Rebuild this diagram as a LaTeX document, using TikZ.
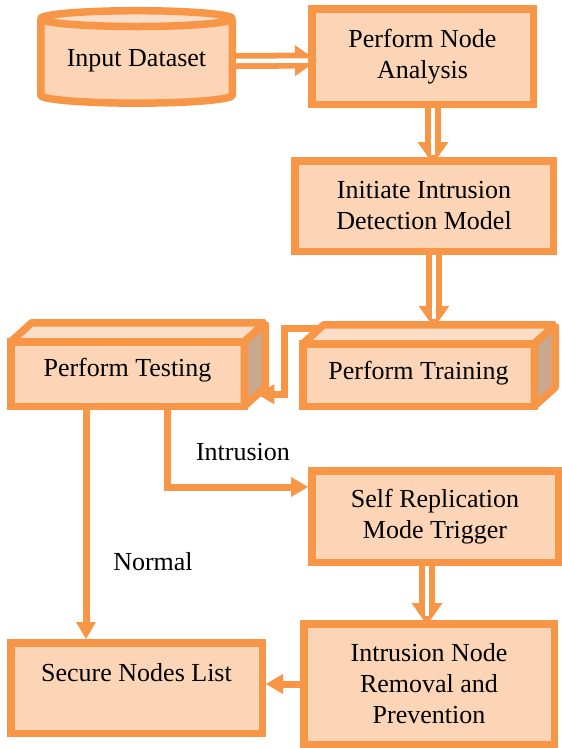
\documentclass[tikz,border=0pt]{standalone}
\usepackage{fontspec}
\setmainfont{Liberation Serif}
\newfontfamily\tnrfont{Liberation Serif}
\usetikzlibrary{arrows.meta,calc}
\definecolor{orng}{HTML}{F79646}
\definecolor{boxfill}{HTML}{FBD5B5}
\definecolor{topfill}{HTML}{FCDEC8}
\definecolor{sidefill}{HTML}{C9A88E}
\begin{document}
\begin{tikzpicture}[x=1pt,y=-1pt,
  box/.style={draw=orng, fill=boxfill, line width=7.5pt, inner sep=0pt, align=center,
    font=\tnrfont\fontsize{26}{31}\selectfont},
  cubefront/.style={box, outer sep=0pt},
  face/.style={draw=orng, line width=7.5pt, line join=bevel},
  conn/.style={draw=orng, line width=7pt, -{Triangle[width=20pt,length=17pt,line width=0pt]}},
  dbl/.style={draw=orng, line width=16pt, -{Triangle[width=31pt,length=22pt,line width=0pt]},
    postaction={draw=white, line width=4.5pt, arrows=-, shorten >=9pt}},
  lbl/.style={inner sep=0pt, font=\tnrfont\fontsize{26}{31}\selectfont}]
\useasboundingbox (0,0) rectangle (562,748);

% cylinder: Input Dataset
\fill[boxfill] (40.75,18.6) -- (40.75,95.25) arc[start angle=180, end angle=0, x radius=95.75, y radius=7.9] -- (232.25,18.6) -- cycle;
\draw[face] (40.75,18.6) -- (40.75,95.25) arc[start angle=180, end angle=0, x radius=95.75, y radius=7.9] -- (232.25,18.6);
\filldraw[face, fill=topfill] (136.5,18.6) ellipse [x radius=95.75, y radius=7.9];
\node[lbl, minimum width=199, minimum height=100, text height=18pt, text depth=0pt] (cyl) at (136.5,57) {Input Dataset};

% boxes
\node[box, minimum width=221.5, minimum height=95.5] (pna) at (422.5,56.5) {Perform Node\\Analysis};
\node[box, minimum width=258.5, minimum height=90.5] (iidm) at (424,206) {Initiate Intrusion\\Detection Model};
\node[box, minimum width=246.5, minimum height=91.5] (srmt) at (435,516.5) {Self Replication\\Mode Trigger};
\node[box, minimum width=250.5, minimum height=120.5] (inrp) at (429,684) {Intrusion Node\\Removal and\\Prevention};
\node[box, minimum width=251.5, minimum height=90.5, text height=18pt, text depth=32pt] (snl) at (136.5,688) {Secure Nodes List};

% cubes
\node[cubefront, minimum width=233.5, minimum height=64.5, text height=18pt, text depth=14pt] (test) at (127.5,374) {Perform Testing};
\filldraw[face, fill=topfill] (test.north west) -- ++(21,-19) -- ($(test.north east)+(21,-19)$) -- (test.north east) -- cycle;
\filldraw[face, fill=sidefill] (test.north east) -- ++(21,-19) -- ($(test.south east)+(21,-19)$) -- (test.south east) -- cycle;

\node[cubefront, minimum width=231.5, minimum height=62.5, text height=18pt, text depth=10pt] (train) at (418.5,375) {Perform Training};
\filldraw[face, fill=topfill] (train.north west) -- ++(21,-19) -- ($(train.north east)+(21,-19)$) -- (train.north east) -- cycle;
\filldraw[face, fill=sidefill] (train.north east) -- ++(21,-19) -- ($(train.south east)+(21,-19)$) -- (train.south east) -- cycle;

% connectors
\draw[dbl] ([yshift=-4pt]cyl.east) -- ([yshift=-4pt,xshift=9pt]pna.west);
\draw[dbl] ($(pna.south)+(10.5,0)$) -- ($(pna.south |- iidm.north)+(10.5,7)$);
\draw[dbl] ($(iidm.south)+(10,0)$) -- ($(train.north)+(15.5,-16)$);
\draw[conn] ($(train.north west)+(16,-15)$) -- ++(-34,0) |- ($(test.south east)+(13,-12)$);
\draw[conn] ($(test.south)+(-41.5,0)$) -- ($(snl.north)+(-50.5,0)$);
\draw[conn] ($(test.south)+(39.5,0)$) |- ($(srmt.west)+(0,-29.5)$);
\draw[dbl] ($(srmt.south)+(-8,0)$) -- ($(inrp.north)+(-2,5)$);
\draw[conn] (inrp.west) -- (inrp.west -| snl.east);

% labels
\node[lbl] (lint) at (243,452) {Intrusion};
\node[lbl] (lnorm) at (153,562) {Normal};
\end{tikzpicture}
\end{document}
